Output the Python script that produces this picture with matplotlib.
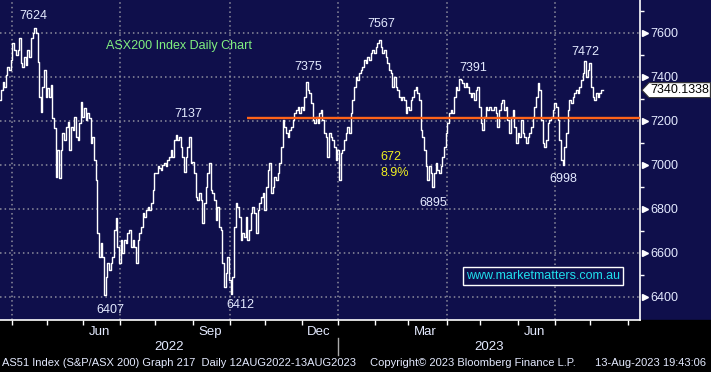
import numpy as np
import pandas as pd
import matplotlib
matplotlib.use('Agg')
import matplotlib.pyplot as plt
import matplotlib.transforms as mtransforms
from matplotlib.patches import Polygon, Rectangle

#Daily closes (23 Mar 2022 -> 11 Aug 2023)
closes_1 = [7295, 7341, 7379, 7356, 7409, 7447, 7432, 7477, 7553, 7523,
            7500, 7523, 7576, 7462, 7447, 7492, 7455, 7523, 7492, 7576,
            7598, 7621, 7598, 7470, 7311, 7242, 7356, 7432, 7311, 7349,
            7311, 7364, 7212, 7167, 6947, 7068, 6939, 7068, 7144, 7114,
            7174, 7197, 7068, 7174, 7159, 7220, 7129, 7114, 7189, 7288,
            7220, 7258, 7205, 7235, 7212, 7099, 7129, 7023, 6932, 6690,
            6583, 6644, 6583, 6410, 6492, 6553, 6523, 6553, 6583, 6705,
            6758, 6629, 6553, 6659, 6599, 6659, 6644, 6690, 6705, 6629,
            6659, 6629, 6553, 6659, 6690, 6720, 6780, 6765, 6796, 6811,
            6796, 6826, 6886, 6962]
closes_2 = [6962, 6993, 6985, 6977, 7000, 7008, 6993, 7023, 7038, 7068,
            7038, 7114, 7135, 7114, 7129, 7083, 7038, 6970, 7038, 7083,
            7129, 7008, 7015, 6962, 6856, 6841, 6871, 6841, 6735, 6826,
            6902, 6962, 7008, 6886, 6871, 6841, 6750, 6811, 6720, 6705,
            6553, 6447, 6508, 6583, 6477, 6415, 6492, 6720, 6826, 6811,
            6765, 6659, 6690, 6674, 6765, 6659, 6705, 6780, 6811, 6780,
            6690, 6796, 6826, 6856, 6871, 6796, 6902, 6977, 7008, 6871,
            6902, 6947, 6932, 6962, 7008, 7083, 7205, 7174, 7144, 7129,
            7159, 7174, 7205, 7235, 7250, 7265, 7235, 7265, 7250, 7311,
            7375, 7341, 7326]
closes_3 = [7280, 7205, 7189, 7220, 7189, 7235, 7250, 7205, 7144, 7129,
            7038, 7144, 7129, 7114, 7083, 7023, 7068, 6932, 7053, 7068,
            7114, 7144, 7174, 7144, 7235, 7295, 7356, 7402, 7386, 7417,
            7432, 7447, 7477, 7462, 7492, 7477, 7508, 7523, 7508, 7538,
            7553, 7567, 7538, 7508, 7523, 7492, 7462, 7432, 7417, 7356,
            7402, 7356, 7341, 7311, 7295, 7311, 7295, 7235, 7265, 7250,
            7295, 7311, 7341, 7356, 7326, 7295, 7159, 7129, 7068, 6993,
            6932, 6993, 6962, 6900, 6962, 7008, 6977, 6962, 6993, 7038,
            7083, 7144, 7189, 7235, 7250, 7235, 7311, 7356, 7341, 7391]
closes_4 = [7386, 7371, 7356, 7371, 7356, 7326, 7311, 7326, 7295, 7341,
            7356, 7265, 7189, 7159, 7220, 7265, 7250, 7265, 7250, 7250,
            7265, 7235, 7174, 7250, 7280, 7295, 7250, 7265, 7205, 7144,
            7220, 7250, 7174, 7099, 7144, 7129, 7205, 7144, 7129, 7099,
            7129, 7144, 7174, 7220, 7265, 7311, 7371, 7341, 7205, 7099,
            7083, 7114, 7189, 7205, 7220, 7250, 7280, 7265, 7205, 7114,
            7023, 6998, 7083, 7144, 7250, 7295, 7280, 7311, 7326, 7341,
            7326, 7356, 7386, 7417, 7472, 7402, 7432, 7462, 7356, 7311,
            7295, 7326, 7311, 7326, 7341, 7340.1338]
closes = closes_1 + closes_2 + closes_3 + closes_4
last_price = 7340.1338
support = 7215

yticks = [6400, 6600, 6800, 7000, 7200, 7400, 7600]
month_names = {3: 'Mar', 6: 'Jun', 9: 'Sep', 12: 'Dec'}

#peak/trough labels: text, x (trading day), y (index level)
peak_labels = ['7624', '7137', '7375', '7567', '7391', '7472',
               '6407', '6412', '6895', '6998']
peak_x = [20, 113, 185, 229, 284, 351, 66, 144, 260, 338]
peak_y = [7675, 7232, 7445, 7641, 7441, 7514, 6341, 6364, 6827, 6936]

navy = '#0f0f4b'
txtcol = '#e4eaff'
fam = 'Liberation Sans'

days = pd.bdate_range(end='2023-08-11', periods=len(closes))
axis_days = pd.bdate_range(days[0], '2023-09-30')
month_starts = pd.date_range('2022-04-01', '2023-09-30', freq='MS')
ms_pos = axis_days.searchsorted(month_starts)
x = np.arange(len(closes))

fig = plt.figure(figsize=(7.11, 3.72), dpi=100, facecolor=navy)
band = Rectangle((0, 0), 1, 52/372, transform=fig.transFigure, color='black', zorder=-5)
fig.add_artist(band)
ax = fig.add_axes([0, 52/372, 640/711, 320/372])
ax.set_facecolor(navy)

ax.plot(x, closes, color='white', lw=1.0, drawstyle='steps-mid', zorder=3)
ax.set_xlim(0, 384)
ax.set_ylim(6295, 7750)

#dotted grid
for v in yticks:
    ax.axhline(v, color='#8e8e9e', lw=1.1, ls=(0, (1, 2)), zorder=1)
for m, p in zip(month_starts, ms_pos):
    if m.month in (1, 4, 7, 10):
        ax.axvline(p, color='#8e8e9e', lw=1.1, ls=(0, (1, 2)), zorder=1)

#support line
ax.hlines(support, 148, 384, color='#ff6419', lw=1.7, zorder=4)

for s in ['left', 'top']:
    ax.spines[s].set_visible(False)
for s in ['right', 'bottom']:
    ax.spines[s].set_color('white')
    ax.spines[s].set_linewidth(1.2)

#x axis: month ticks + labels at mid month (only months with data)
ax.set_xticks(ms_pos, minor=True)
lab_dates = [m + pd.Timedelta(days=14) for m in month_starts
             if m.month in month_names and m <= days[-1]]
ax.set_xticks(axis_days.searchsorted(lab_dates))
ax.set_xticklabels([month_names[d.month] for d in lab_dates], family=fam)
ax.tick_params(axis='x', which='minor', length=3.5, color='white', width=1)
ax.tick_params(axis='x', which='major', length=0, pad=4, labelcolor=txtcol, labelsize=9.5)

xt = mtransforms.blended_transform_factory(ax.transData, ax.transAxes)
jan = axis_days.searchsorted(pd.Timestamp('2023-01-02'))
ax.text(jan / 2, -0.085, '2022', transform=xt, ha='center', va='center',
        color=txtcol, fontsize=9.5, family=fam)
ax.text((jan + 384) / 2, -0.085, '2023', transform=xt, ha='center', va='center',
        color=txtcol, fontsize=9.5, family=fam)
ax.plot([jan, jan], [-0.057, -0.11], transform=xt, color='#aaaaaa', lw=1, clip_on=False)

#y axis on the right
ax.yaxis.tick_right()
ax.set_yticks(yticks)
ax.set_yticks(np.arange(6500, 7701, 200), minor=True)
ax.tick_params(axis='y', which='major', length=0, pad=7.3, labelcolor=txtcol, labelsize=9)
ax.tick_params(axis='y', which='minor', length=3, color='white', width=1)
for lab in ax.get_yticklabels():
    lab.set_family(fam)
yt = mtransforms.blended_transform_factory(ax.transAxes, ax.transData)
ax.plot([1.0075] * len(yticks), yticks, transform=yt, ls='none', marker='>',
        ms=5, color='white', clip_on=False)

#last price tag
tag = Polygon([(1.003, last_price), (1.014, last_price + 34), (1.11, last_price + 34),
               (1.11, last_price - 34), (1.014, last_price - 34)],
              closed=True, transform=yt, fc='white', ec='#333333', lw=0.8, clip_on=False)
ax.add_patch(tag)
ax.text(1.062, last_price, '%.4f' % last_price, transform=yt, ha='center', va='center',
        fontsize=9, color='black', family=fam)

#annotations
for t, px, py in zip(peak_labels, peak_x, peak_y):
    ax.text(px, py, t, ha='center', va='center', color=txtcol, fontsize=9,
            family=fam, zorder=5)
ax.text(228.5, 7036, '672', ha='left', va='center', color='#f0f020', fontsize=9, family=fam)
ax.text(228.5, 6964, '8.9%', ha='left', va='center', color='#f0f020', fontsize=9, family=fam)
ax.text(63.5, 7541, 'ASX200 Index Daily Chart', ha='left', va='center', color='#80f080',
        fontsize=9, family=fam)
ax.text(326, 6495, 'www.marketmatters.com.au', ha='center', va='center', color='#20e0ee',
        fontsize=9, family=fam,
        bbox=dict(boxstyle='square,pad=0.25', fc=navy, ec='white', lw=1))

#footer
fig.text(2/711, 9/372, 'AS51 Index (S&P/ASX 200) Graph 217  Daily 12AUG2022-13AUG2023',
         color=txtcol, fontsize=8, family=fam, va='center')
fig.text(370/711, 9/372, 'Copyright\u00a9 2023 Bloomberg Finance L.P.',
         color=txtcol, fontsize=8, family=fam, va='center')
fig.text(706/711, 9/372, '13-Aug-2023 19:43:06', color=txtcol, fontsize=8,
         family=fam, va='center', ha='right')

fig.savefig('out.png', dpi=100, facecolor=navy)
